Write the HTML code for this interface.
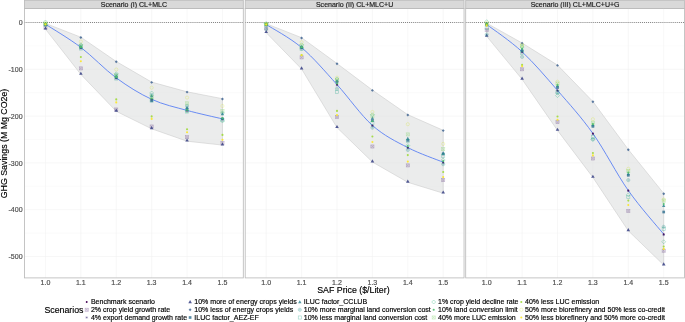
<!DOCTYPE html>
<html><head><meta charset="utf-8"><title>chart</title><style>html,body{margin:0;padding:0;background:#fff;overflow:hidden}svg{display:block;will-change:transform}</style></head><body>
<svg width="685" height="322" viewBox="0 0 685 322" font-family="Liberation Sans, sans-serif">
<rect width="685" height="322" fill="#fff"/>
<g>
<rect x="24.45" y="0.35" width="218.85" height="8.15" fill="#d9d9d9" stroke="#bbbbbb" stroke-width="0.85"/>
<text x="133.88" y="7.1" font-size="7.04" fill="#1a1a1a" stroke="#1a1a1a" stroke-width="0.16" text-anchor="middle">Scenario (I) CL+MLC</text>
<path d="M24.45 22.5H243.3M24.45 69.3H243.3M24.45 116.1H243.3M24.45 162.9H243.3M24.45 209.7H243.3M24.45 256.5H243.3M45.45 8.5V277.9M80.85 8.5V277.9M116.25 8.5V277.9M151.65 8.5V277.9M187.05 8.5V277.9M222.45 8.5V277.9" stroke="#f0f0f0" stroke-width="0.55" fill="none"/>
<path d="M24.45 45.9H243.3M24.45 92.7H243.3M24.45 139.5H243.3M24.45 186.3H243.3M24.45 233.1H243.3" stroke="#f6f6f6" stroke-width="0.4" fill="none"/>
<path d="M24.45 22.5H243.3" stroke="#5a5a5a" stroke-width="0.85" stroke-dasharray="0.85 1.2" fill="none"/>
<polygon points="45.45,23.4 80.85,37.2 116.25,61.5 151.65,82.1 187.05,91.8 222.45,98.7 222.45,145.1 187.05,141.2 151.65,128.8 116.25,111.3 80.85,74.4 45.45,29.1" fill="#dfe1e1" fill-opacity="0.62" stroke="#c4c4c4" stroke-width="0.5"/>
<path d="M45.45 24.2C51.35 28.07 69.05 38.45 80.85 47.4C92.65 56.35 104.45 69.25 116.25 77.9C128.05 86.55 139.85 93.88 151.65 99.3C163.45 104.72 175.25 107.13 187.05 110.4C198.85 113.67 216.55 117.48 222.45 118.9" stroke="#5a80f4" stroke-width="0.9" fill="none"/>
<circle cx="45.45" cy="24.2" r="0.95" fill="#440154" opacity="1"/>
<circle cx="80.85" cy="47.4" r="0.95" fill="#440154" opacity="1"/>
<circle cx="116.25" cy="77.9" r="0.95" fill="#440154" opacity="1"/>
<circle cx="151.65" cy="99.3" r="0.95" fill="#440154" opacity="1"/>
<circle cx="187.05" cy="110.4" r="0.95" fill="#440154" opacity="1"/>
<circle cx="222.45" cy="118.9" r="0.95" fill="#440154" opacity="1"/>
<g stroke="#481B6D" stroke-width="0.6" fill="#481B6D" fill-opacity="0.3" opacity="0.35"><rect x="43.9" y="25.95" width="3.1" height="3.1"/><path d="M43.9 25.95L47 29.05M43.9 29.05L47 25.95"/></g>
<g stroke="#481B6D" stroke-width="0.6" fill="#481B6D" fill-opacity="0.3" opacity="0.35"><rect x="79.3" y="66.85" width="3.1" height="3.1"/><path d="M79.3 66.85L82.4 69.95M79.3 69.95L82.4 66.85"/></g>
<g stroke="#481B6D" stroke-width="0.6" fill="#481B6D" fill-opacity="0.3" opacity="0.35"><rect x="114.7" y="107.95" width="3.1" height="3.1"/><path d="M114.7 107.95L117.8 111.05M114.7 111.05L117.8 107.95"/></g>
<g stroke="#481B6D" stroke-width="0.6" fill="#481B6D" fill-opacity="0.3" opacity="0.35"><rect x="150.1" y="124.95" width="3.1" height="3.1"/><path d="M150.1 124.95L153.2 128.05M150.1 128.05L153.2 124.95"/></g>
<g stroke="#481B6D" stroke-width="0.6" fill="#481B6D" fill-opacity="0.3" opacity="0.35"><rect x="185.5" y="135.65" width="3.1" height="3.1"/><path d="M185.5 135.65L188.6 138.75M185.5 138.75L188.6 135.65"/></g>
<g stroke="#481B6D" stroke-width="0.6" fill="#481B6D" fill-opacity="0.3" opacity="0.35"><rect x="220.9" y="141.45" width="3.1" height="3.1"/><path d="M220.9 141.45L224 144.55M220.9 144.55L224 141.45"/></g>
<path stroke="#46337E" stroke-width="0.7" fill="none" opacity="0.4" d="M44.2 24.8H46.7M45.45 23.55V26.05M44.55 23.9L46.35 25.7M44.55 25.7L46.35 23.9"/>
<path stroke="#46337E" stroke-width="0.7" fill="none" opacity="0.4" d="M79.6 48.2H82.1M80.85 46.95V49.45M79.95 47.3L81.75 49.1M79.95 49.1L81.75 47.3"/>
<path stroke="#46337E" stroke-width="0.7" fill="none" opacity="0.4" d="M115 78.6H117.5M116.25 77.35V79.85M115.35 77.7L117.15 79.5M115.35 79.5L117.15 77.7"/>
<path stroke="#46337E" stroke-width="0.7" fill="none" opacity="0.4" d="M150.4 100H152.9M151.65 98.75V101.25M150.75 99.1L152.55 100.9M150.75 100.9L152.55 99.1"/>
<path stroke="#46337E" stroke-width="0.7" fill="none" opacity="0.4" d="M185.8 111H188.3M187.05 109.75V112.25M186.15 110.1L187.95 111.9M186.15 111.9L187.95 110.1"/>
<path stroke="#46337E" stroke-width="0.7" fill="none" opacity="0.4" d="M221.2 119.5H223.7M222.45 118.25V120.75M221.55 118.6L223.35 120.4M221.55 120.4L223.35 118.6"/>
<path fill="#3F4889" opacity="0.9" d="M45.45 26.4L47.25 29.5L43.65 29.5Z"/>
<path fill="#3F4889" opacity="0.9" d="M80.85 71.7L82.65 74.8L79.05 74.8Z"/>
<path fill="#3F4889" opacity="0.9" d="M116.25 108.6L118.05 111.7L114.45 111.7Z"/>
<path fill="#3F4889" opacity="0.9" d="M151.65 126.1L153.45 129.2L149.85 129.2Z"/>
<path fill="#3F4889" opacity="0.9" d="M187.05 138.5L188.85 141.6L185.25 141.6Z"/>
<path fill="#3F4889" opacity="0.9" d="M222.45 142.4L224.25 145.5L220.65 145.5Z"/>
<path fill="#365C8D" opacity="0.8" d="M45.45 22.25L46.9 23.7L45.45 25.15L44 23.7Z"/>
<path fill="#365C8D" opacity="0.8" d="M80.85 36.05L82.3 37.5L80.85 38.95L79.4 37.5Z"/>
<path fill="#365C8D" opacity="0.8" d="M116.25 60.35L117.7 61.8L116.25 63.25L114.8 61.8Z"/>
<path fill="#365C8D" opacity="0.8" d="M151.65 80.95L153.1 82.4L151.65 83.85L150.2 82.4Z"/>
<path fill="#365C8D" opacity="0.8" d="M187.05 90.65L188.5 92.1L187.05 93.55L185.6 92.1Z"/>
<path fill="#365C8D" opacity="0.8" d="M222.45 97.55L223.9 99L222.45 100.45L221 99Z"/>
<rect x="44.1" y="23.15" width="2.7" height="2.7" fill="#2E6E8E" opacity="0.8"/>
<rect x="79.5" y="46.45" width="2.7" height="2.7" fill="#2E6E8E" opacity="0.8"/>
<rect x="114.9" y="76.15" width="2.7" height="2.7" fill="#2E6E8E" opacity="0.8"/>
<rect x="150.3" y="99.45" width="2.7" height="2.7" fill="#2E6E8E" opacity="0.8"/>
<rect x="185.7" y="107.85" width="2.7" height="2.7" fill="#2E6E8E" opacity="0.8"/>
<rect x="221.1" y="117.55" width="2.7" height="2.7" fill="#2E6E8E" opacity="0.8"/>
<path fill="#277F8E" opacity="0.8" d="M45.45 22.2L47.16 25.14L43.74 25.14Z"/>
<path fill="#277F8E" opacity="0.8" d="M80.85 44.7L82.56 47.64L79.14 47.64Z"/>
<path fill="#277F8E" opacity="0.8" d="M116.25 74.19L117.96 77.14L114.54 77.14Z"/>
<path fill="#277F8E" opacity="0.8" d="M151.65 94.29L153.36 97.24L149.94 97.24Z"/>
<path fill="#277F8E" opacity="0.8" d="M187.05 105.69L188.76 108.64L185.34 108.64Z"/>
<path fill="#277F8E" opacity="0.8" d="M222.45 112.19L224.16 115.14L220.74 115.14Z"/>
<g stroke="#21908C" stroke-width="0.6" fill="none" opacity="0.45"><circle cx="45.45" cy="24.5" r="1.6"/><path d="M43.85 24.5H47.05M45.45 22.9V26.1"/></g>
<g stroke="#21908C" stroke-width="0.6" fill="none" opacity="0.45"><circle cx="80.85" cy="45.5" r="1.6"/><path d="M79.25 45.5H82.45M80.85 43.9V47.1"/></g>
<g stroke="#21908C" stroke-width="0.6" fill="none" opacity="0.45"><circle cx="116.25" cy="75" r="1.6"/><path d="M114.65 75H117.85M116.25 73.4V76.6"/></g>
<g stroke="#21908C" stroke-width="0.6" fill="none" opacity="0.45"><circle cx="151.65" cy="95" r="1.6"/><path d="M150.05 95H153.25M151.65 93.4V96.6"/></g>
<g stroke="#21908C" stroke-width="0.6" fill="none" opacity="0.45"><circle cx="187.05" cy="106" r="1.6"/><path d="M185.45 106H188.65M187.05 104.4V107.6"/></g>
<g stroke="#21908C" stroke-width="0.6" fill="none" opacity="0.45"><circle cx="222.45" cy="113" r="1.6"/><path d="M220.85 113H224.05M222.45 111.4V114.6"/></g>
<rect x="43.9" y="23.45" width="3.1" height="3.1" fill="none" stroke="#1FA187" stroke-width="0.6" opacity="0.45"/>
<rect x="79.3" y="46.95" width="3.1" height="3.1" fill="none" stroke="#1FA187" stroke-width="0.6" opacity="0.45"/>
<rect x="114.7" y="76.95" width="3.1" height="3.1" fill="none" stroke="#1FA187" stroke-width="0.6" opacity="0.45"/>
<rect x="150.1" y="98.95" width="3.1" height="3.1" fill="none" stroke="#1FA187" stroke-width="0.6" opacity="0.45"/>
<rect x="185.5" y="109.95" width="3.1" height="3.1" fill="none" stroke="#1FA187" stroke-width="0.6" opacity="0.45"/>
<rect x="220.9" y="118.45" width="3.1" height="3.1" fill="none" stroke="#1FA187" stroke-width="0.6" opacity="0.45"/>
<path fill="none" stroke="#2DB27D" stroke-width="0.6" opacity="0.55" d="M45.45 20L47.45 22L45.45 24L43.45 22Z"/>
<path fill="none" stroke="#2DB27D" stroke-width="0.6" opacity="0.55" d="M80.85 42.8L82.85 44.8L80.85 46.8L78.85 44.8Z"/>
<path fill="none" stroke="#2DB27D" stroke-width="0.6" opacity="0.55" d="M116.25 71.8L118.25 73.8L116.25 75.8L114.25 73.8Z"/>
<path fill="none" stroke="#2DB27D" stroke-width="0.6" opacity="0.55" d="M151.65 91L153.65 93L151.65 95L149.65 93Z"/>
<path fill="none" stroke="#2DB27D" stroke-width="0.6" opacity="0.55" d="M187.05 109L189.05 111L187.05 113L185.05 111Z"/>
<path fill="none" stroke="#2DB27D" stroke-width="0.6" opacity="0.55" d="M222.45 119L224.45 121L222.45 123L220.45 121Z"/>
<circle cx="45.45" cy="24.2" r="1.05" fill="#4AC16D" opacity="0.9"/>
<circle cx="80.85" cy="47" r="1.05" fill="#4AC16D" opacity="0.9"/>
<circle cx="116.25" cy="77" r="1.05" fill="#4AC16D" opacity="0.9"/>
<circle cx="151.65" cy="98.5" r="1.05" fill="#4AC16D" opacity="0.9"/>
<circle cx="187.05" cy="110" r="1.05" fill="#4AC16D" opacity="0.9"/>
<circle cx="222.45" cy="118" r="1.05" fill="#4AC16D" opacity="0.9"/>
<g stroke="#71CF57" stroke-width="0.6" fill="#71CF57" fill-opacity="0.15" opacity="0.4"><rect x="43.9" y="22.45" width="3.1" height="3.1"/><path d="M43.9 22.45L47 25.55M43.9 25.55L47 22.45"/></g>
<g stroke="#71CF57" stroke-width="0.6" fill="#71CF57" fill-opacity="0.15" opacity="0.4"><rect x="79.3" y="44.45" width="3.1" height="3.1"/><path d="M79.3 44.45L82.4 47.55M79.3 47.55L82.4 44.45"/></g>
<g stroke="#71CF57" stroke-width="0.6" fill="#71CF57" fill-opacity="0.15" opacity="0.4"><rect x="114.7" y="73.95" width="3.1" height="3.1"/><path d="M114.7 73.95L117.8 77.05M114.7 77.05L117.8 73.95"/></g>
<g stroke="#71CF57" stroke-width="0.6" fill="#71CF57" fill-opacity="0.15" opacity="0.4"><rect x="150.1" y="95.45" width="3.1" height="3.1"/><path d="M150.1 95.45L153.2 98.55M150.1 98.55L153.2 95.45"/></g>
<g stroke="#71CF57" stroke-width="0.6" fill="#71CF57" fill-opacity="0.15" opacity="0.4"><rect x="185.5" y="101.75" width="3.1" height="3.1"/><path d="M185.5 101.75L188.6 104.85M185.5 104.85L188.6 101.75"/></g>
<g stroke="#71CF57" stroke-width="0.6" fill="#71CF57" fill-opacity="0.15" opacity="0.4"><rect x="220.9" y="109.45" width="3.1" height="3.1"/><path d="M220.9 109.45L224 112.55M220.9 112.55L224 109.45"/></g>
<circle cx="45.45" cy="23.9" r="1.05" fill="#9FDA3A" opacity="0.9"/>
<circle cx="80.85" cy="57" r="1.05" fill="#9FDA3A" opacity="0.9"/>
<circle cx="116.25" cy="99.4" r="1.05" fill="#9FDA3A" opacity="0.9"/>
<circle cx="151.65" cy="116.4" r="1.05" fill="#9FDA3A" opacity="0.9"/>
<circle cx="187.05" cy="129.2" r="1.05" fill="#9FDA3A" opacity="0.9"/>
<circle cx="222.45" cy="134.9" r="1.05" fill="#9FDA3A" opacity="0.9"/>
<circle cx="45.45" cy="23" r="1.6" fill="none" stroke="#CFE11C" stroke-width="0.6" opacity="0.4"/>
<circle cx="80.85" cy="41.5" r="1.6" fill="none" stroke="#CFE11C" stroke-width="0.6" opacity="0.4"/>
<circle cx="116.25" cy="69.5" r="1.6" fill="none" stroke="#CFE11C" stroke-width="0.6" opacity="0.4"/>
<circle cx="151.65" cy="87.7" r="1.6" fill="none" stroke="#CFE11C" stroke-width="0.6" opacity="0.4"/>
<circle cx="187.05" cy="97.6" r="1.6" fill="none" stroke="#CFE11C" stroke-width="0.6" opacity="0.4"/>
<circle cx="222.45" cy="106" r="1.6" fill="none" stroke="#CFE11C" stroke-width="0.6" opacity="0.4"/>
<circle cx="45.45" cy="24.5" r="1.05" fill="#FDE725" opacity="0.9"/>
<circle cx="80.85" cy="61.3" r="1.05" fill="#FDE725" opacity="0.9"/>
<circle cx="116.25" cy="102.4" r="1.05" fill="#FDE725" opacity="0.9"/>
<circle cx="151.65" cy="118.9" r="1.05" fill="#FDE725" opacity="0.9"/>
<circle cx="187.05" cy="132.3" r="1.05" fill="#FDE725" opacity="0.9"/>
<circle cx="222.45" cy="139.8" r="1.05" fill="#FDE725" opacity="0.9"/>
<rect x="24.45" y="8.5" width="218.85" height="269.4" fill="none" stroke="#bbbbbb" stroke-width="0.85"/>
<text x="45.45" y="284.55" font-size="7.04" fill="#4d4d4d" stroke="#4d4d4d" stroke-width="0.16" text-anchor="middle">1.0</text>
<text x="80.85" y="284.55" font-size="7.04" fill="#4d4d4d" stroke="#4d4d4d" stroke-width="0.16" text-anchor="middle">1.1</text>
<text x="116.25" y="284.55" font-size="7.04" fill="#4d4d4d" stroke="#4d4d4d" stroke-width="0.16" text-anchor="middle">1.2</text>
<text x="151.65" y="284.55" font-size="7.04" fill="#4d4d4d" stroke="#4d4d4d" stroke-width="0.16" text-anchor="middle">1.3</text>
<text x="187.05" y="284.55" font-size="7.04" fill="#4d4d4d" stroke="#4d4d4d" stroke-width="0.16" text-anchor="middle">1.4</text>
<text x="222.45" y="284.55" font-size="7.04" fill="#4d4d4d" stroke="#4d4d4d" stroke-width="0.16" text-anchor="middle">1.5</text>
</g>
<g>
<rect x="245.2" y="0.35" width="218.85" height="8.15" fill="#d9d9d9" stroke="#bbbbbb" stroke-width="0.85"/>
<text x="354.62" y="7.1" font-size="7.04" fill="#1a1a1a" stroke="#1a1a1a" stroke-width="0.16" text-anchor="middle">Scenario (II) CL+MLC+U</text>
<path d="M245.2 22.5H464.05M245.2 69.3H464.05M245.2 116.1H464.05M245.2 162.9H464.05M245.2 209.7H464.05M245.2 256.5H464.05M266.2 8.5V277.9M301.6 8.5V277.9M337 8.5V277.9M372.4 8.5V277.9M407.8 8.5V277.9M443.2 8.5V277.9" stroke="#f0f0f0" stroke-width="0.55" fill="none"/>
<path d="M245.2 45.9H464.05M245.2 92.7H464.05M245.2 139.5H464.05M245.2 186.3H464.05M245.2 233.1H464.05" stroke="#f6f6f6" stroke-width="0.4" fill="none"/>
<path d="M245.2 22.5H464.05" stroke="#5a5a5a" stroke-width="0.85" stroke-dasharray="0.85 1.2" fill="none"/>
<polygon points="266.2,23.7 301.6,37.7 337,63.5 372.4,90.1 407.8,114.7 443.2,130.3 443.2,193.2 407.8,182.3 372.4,162 337,127.6 301.6,69 266.2,32.7" fill="#dfe1e1" fill-opacity="0.62" stroke="#c4c4c4" stroke-width="0.5"/>
<path d="M266.2 24.5C272.1 28.35 289.8 37.58 301.6 47.6C313.4 57.62 325.2 71.63 337 84.6C348.8 97.57 360.6 114.9 372.4 125.4C384.2 135.9 396 141.47 407.8 147.6C419.6 153.73 437.3 159.77 443.2 162.2" stroke="#5a80f4" stroke-width="0.9" fill="none"/>
<circle cx="266.2" cy="24.5" r="0.95" fill="#440154" opacity="1"/>
<circle cx="301.6" cy="47.6" r="0.95" fill="#440154" opacity="1"/>
<circle cx="337" cy="84.6" r="0.95" fill="#440154" opacity="1"/>
<circle cx="372.4" cy="125.4" r="0.95" fill="#440154" opacity="1"/>
<circle cx="407.8" cy="147.6" r="0.95" fill="#440154" opacity="1"/>
<circle cx="443.2" cy="162.2" r="0.95" fill="#440154" opacity="1"/>
<g stroke="#481B6D" stroke-width="0.6" fill="#481B6D" fill-opacity="0.3" opacity="0.35"><rect x="264.65" y="26.95" width="3.1" height="3.1"/><path d="M264.65 26.95L267.75 30.05M264.65 30.05L267.75 26.95"/></g>
<g stroke="#481B6D" stroke-width="0.6" fill="#481B6D" fill-opacity="0.3" opacity="0.35"><rect x="300.05" y="55.85" width="3.1" height="3.1"/><path d="M300.05 55.85L303.15 58.95M300.05 58.95L303.15 55.85"/></g>
<g stroke="#481B6D" stroke-width="0.6" fill="#481B6D" fill-opacity="0.3" opacity="0.35"><rect x="335.45" y="115.55" width="3.1" height="3.1"/><path d="M335.45 115.55L338.55 118.65M335.45 118.65L338.55 115.55"/></g>
<g stroke="#481B6D" stroke-width="0.6" fill="#481B6D" fill-opacity="0.3" opacity="0.35"><rect x="370.85" y="144.95" width="3.1" height="3.1"/><path d="M370.85 144.95L373.95 148.05M370.85 148.05L373.95 144.95"/></g>
<g stroke="#481B6D" stroke-width="0.6" fill="#481B6D" fill-opacity="0.3" opacity="0.35"><rect x="406.25" y="163.85" width="3.1" height="3.1"/><path d="M406.25 163.85L409.35 166.95M406.25 166.95L409.35 163.85"/></g>
<g stroke="#481B6D" stroke-width="0.6" fill="#481B6D" fill-opacity="0.3" opacity="0.35"><rect x="441.65" y="178.55" width="3.1" height="3.1"/><path d="M441.65 178.55L444.75 181.65M441.65 181.65L444.75 178.55"/></g>
<path stroke="#46337E" stroke-width="0.7" fill="none" opacity="0.4" d="M264.95 25H267.45M266.2 23.75V26.25M265.3 24.1L267.1 25.9M265.3 25.9L267.1 24.1"/>
<path stroke="#46337E" stroke-width="0.7" fill="none" opacity="0.4" d="M300.35 48.3H302.85M301.6 47.05V49.55M300.7 47.4L302.5 49.2M300.7 49.2L302.5 47.4"/>
<path stroke="#46337E" stroke-width="0.7" fill="none" opacity="0.4" d="M335.75 85.3H338.25M337 84.05V86.55M336.1 84.4L337.9 86.2M336.1 86.2L337.9 84.4"/>
<path stroke="#46337E" stroke-width="0.7" fill="none" opacity="0.4" d="M371.15 126H373.65M372.4 124.75V127.25M371.5 125.1L373.3 126.9M371.5 126.9L373.3 125.1"/>
<path stroke="#46337E" stroke-width="0.7" fill="none" opacity="0.4" d="M406.55 148.3H409.05M407.8 147.05V149.55M406.9 147.4L408.7 149.2M406.9 149.2L408.7 147.4"/>
<path stroke="#46337E" stroke-width="0.7" fill="none" opacity="0.4" d="M441.95 163H444.45M443.2 161.75V164.25M442.3 162.1L444.1 163.9M442.3 163.9L444.1 162.1"/>
<path fill="#3F4889" opacity="0.9" d="M266.2 30L268 33.1L264.4 33.1Z"/>
<path fill="#3F4889" opacity="0.9" d="M301.6 66.3L303.4 69.4L299.8 69.4Z"/>
<path fill="#3F4889" opacity="0.9" d="M337 124.9L338.8 128L335.2 128Z"/>
<path fill="#3F4889" opacity="0.9" d="M372.4 159.3L374.2 162.4L370.6 162.4Z"/>
<path fill="#3F4889" opacity="0.9" d="M407.8 179.6L409.6 182.7L406 182.7Z"/>
<path fill="#3F4889" opacity="0.9" d="M443.2 190.5L445 193.6L441.4 193.6Z"/>
<path fill="#365C8D" opacity="0.8" d="M266.2 22.55L267.65 24L266.2 25.45L264.75 24Z"/>
<path fill="#365C8D" opacity="0.8" d="M301.6 36.55L303.05 38L301.6 39.45L300.15 38Z"/>
<path fill="#365C8D" opacity="0.8" d="M337 62.35L338.45 63.8L337 65.25L335.55 63.8Z"/>
<path fill="#365C8D" opacity="0.8" d="M372.4 88.95L373.85 90.4L372.4 91.85L370.95 90.4Z"/>
<path fill="#365C8D" opacity="0.8" d="M407.8 113.55L409.25 115L407.8 116.45L406.35 115Z"/>
<path fill="#365C8D" opacity="0.8" d="M443.2 129.15L444.65 130.6L443.2 132.05L441.75 130.6Z"/>
<rect x="264.85" y="23.15" width="2.7" height="2.7" fill="#2E6E8E" opacity="0.8"/>
<rect x="300.25" y="46.15" width="2.7" height="2.7" fill="#2E6E8E" opacity="0.8"/>
<rect x="335.65" y="80.65" width="2.7" height="2.7" fill="#2E6E8E" opacity="0.8"/>
<rect x="371.05" y="119.25" width="2.7" height="2.7" fill="#2E6E8E" opacity="0.8"/>
<rect x="406.45" y="139.05" width="2.7" height="2.7" fill="#2E6E8E" opacity="0.8"/>
<rect x="441.85" y="152.65" width="2.7" height="2.7" fill="#2E6E8E" opacity="0.8"/>
<path fill="#277F8E" opacity="0.8" d="M266.2 22.5L267.91 25.44L264.49 25.44Z"/>
<path fill="#277F8E" opacity="0.8" d="M301.6 44.7L303.31 47.64L299.89 47.64Z"/>
<path fill="#277F8E" opacity="0.8" d="M337 78.79L338.71 81.74L335.29 81.74Z"/>
<path fill="#277F8E" opacity="0.8" d="M372.4 116.49L374.11 119.44L370.69 119.44Z"/>
<path fill="#277F8E" opacity="0.8" d="M407.8 136.69L409.51 139.64L406.09 139.64Z"/>
<path fill="#277F8E" opacity="0.8" d="M443.2 151.19L444.91 154.14L441.49 154.14Z"/>
<g stroke="#21908C" stroke-width="0.6" fill="none" opacity="0.45"><circle cx="266.2" cy="29" r="1.6"/><path d="M264.6 29H267.8M266.2 27.4V30.6"/></g>
<g stroke="#21908C" stroke-width="0.6" fill="none" opacity="0.45"><circle cx="301.6" cy="48.5" r="1.6"/><path d="M300 48.5H303.2M301.6 46.9V50.1"/></g>
<g stroke="#21908C" stroke-width="0.6" fill="none" opacity="0.45"><circle cx="337" cy="88.7" r="1.6"/><path d="M335.4 88.7H338.6M337 87.1V90.3"/></g>
<g stroke="#21908C" stroke-width="0.6" fill="none" opacity="0.45"><circle cx="372.4" cy="127.7" r="1.6"/><path d="M370.8 127.7H374M372.4 126.1V129.3"/></g>
<g stroke="#21908C" stroke-width="0.6" fill="none" opacity="0.45"><circle cx="407.8" cy="150" r="1.6"/><path d="M406.2 150H409.4M407.8 148.4V151.6"/></g>
<g stroke="#21908C" stroke-width="0.6" fill="none" opacity="0.45"><circle cx="443.2" cy="164.2" r="1.6"/><path d="M441.6 164.2H444.8M443.2 162.6V165.8"/></g>
<rect x="264.65" y="23.45" width="3.1" height="3.1" fill="none" stroke="#1FA187" stroke-width="0.6" opacity="0.45"/>
<rect x="300.05" y="47.45" width="3.1" height="3.1" fill="none" stroke="#1FA187" stroke-width="0.6" opacity="0.45"/>
<rect x="335.45" y="90.35" width="3.1" height="3.1" fill="none" stroke="#1FA187" stroke-width="0.6" opacity="0.45"/>
<rect x="370.85" y="121.45" width="3.1" height="3.1" fill="none" stroke="#1FA187" stroke-width="0.6" opacity="0.45"/>
<rect x="406.25" y="139.45" width="3.1" height="3.1" fill="none" stroke="#1FA187" stroke-width="0.6" opacity="0.45"/>
<rect x="441.65" y="154.45" width="3.1" height="3.1" fill="none" stroke="#1FA187" stroke-width="0.6" opacity="0.45"/>
<path fill="none" stroke="#2DB27D" stroke-width="0.6" opacity="0.55" d="M266.2 21.5L268.2 23.5L266.2 25.5L264.2 23.5Z"/>
<path fill="none" stroke="#2DB27D" stroke-width="0.6" opacity="0.55" d="M301.6 42.8L303.6 44.8L301.6 46.8L299.6 44.8Z"/>
<path fill="none" stroke="#2DB27D" stroke-width="0.6" opacity="0.55" d="M337 77L339 79L337 81L335 79Z"/>
<path fill="none" stroke="#2DB27D" stroke-width="0.6" opacity="0.55" d="M372.4 112.8L374.4 114.8L372.4 116.8L370.4 114.8Z"/>
<path fill="none" stroke="#2DB27D" stroke-width="0.6" opacity="0.55" d="M407.8 143.6L409.8 145.6L407.8 147.6L405.8 145.6Z"/>
<path fill="none" stroke="#2DB27D" stroke-width="0.6" opacity="0.55" d="M443.2 158L445.2 160L443.2 162L441.2 160Z"/>
<circle cx="266.2" cy="24.4" r="1.05" fill="#4AC16D" opacity="0.9"/>
<circle cx="301.6" cy="47.2" r="1.05" fill="#4AC16D" opacity="0.9"/>
<circle cx="337" cy="83.5" r="1.05" fill="#4AC16D" opacity="0.9"/>
<circle cx="372.4" cy="121.3" r="1.05" fill="#4AC16D" opacity="0.9"/>
<circle cx="407.8" cy="146" r="1.05" fill="#4AC16D" opacity="0.9"/>
<circle cx="443.2" cy="161" r="1.05" fill="#4AC16D" opacity="0.9"/>
<g stroke="#71CF57" stroke-width="0.6" fill="#71CF57" fill-opacity="0.15" opacity="0.4"><rect x="264.65" y="22.65" width="3.1" height="3.1"/><path d="M264.65 22.65L267.75 25.75M264.65 25.75L267.75 22.65"/></g>
<g stroke="#71CF57" stroke-width="0.6" fill="#71CF57" fill-opacity="0.15" opacity="0.4"><rect x="300.05" y="44.45" width="3.1" height="3.1"/><path d="M300.05 44.45L303.15 47.55M300.05 47.55L303.15 44.45"/></g>
<g stroke="#71CF57" stroke-width="0.6" fill="#71CF57" fill-opacity="0.15" opacity="0.4"><rect x="335.45" y="78.45" width="3.1" height="3.1"/><path d="M335.45 78.45L338.55 81.55M335.45 81.55L338.55 78.45"/></g>
<g stroke="#71CF57" stroke-width="0.6" fill="#71CF57" fill-opacity="0.15" opacity="0.4"><rect x="370.85" y="114.45" width="3.1" height="3.1"/><path d="M370.85 114.45L373.95 117.55M370.85 117.55L373.95 114.45"/></g>
<g stroke="#71CF57" stroke-width="0.6" fill="#71CF57" fill-opacity="0.15" opacity="0.4"><rect x="406.25" y="132.85" width="3.1" height="3.1"/><path d="M406.25 132.85L409.35 135.95M406.25 135.95L409.35 132.85"/></g>
<g stroke="#71CF57" stroke-width="0.6" fill="#71CF57" fill-opacity="0.15" opacity="0.4"><rect x="441.65" y="147.65" width="3.1" height="3.1"/><path d="M441.65 147.65L444.75 150.75M441.65 150.75L444.75 147.65"/></g>
<circle cx="266.2" cy="24.3" r="1.05" fill="#9FDA3A" opacity="0.9"/>
<circle cx="301.6" cy="55" r="1.05" fill="#9FDA3A" opacity="0.9"/>
<circle cx="337" cy="110.9" r="1.05" fill="#9FDA3A" opacity="0.9"/>
<circle cx="372.4" cy="136.5" r="1.05" fill="#9FDA3A" opacity="0.9"/>
<circle cx="407.8" cy="155.1" r="1.05" fill="#9FDA3A" opacity="0.9"/>
<circle cx="443.2" cy="172" r="1.05" fill="#9FDA3A" opacity="0.9"/>
<circle cx="266.2" cy="24" r="1.6" fill="none" stroke="#CFE11C" stroke-width="0.6" opacity="0.4"/>
<circle cx="301.6" cy="42.2" r="1.6" fill="none" stroke="#CFE11C" stroke-width="0.6" opacity="0.4"/>
<circle cx="337" cy="77.7" r="1.6" fill="none" stroke="#CFE11C" stroke-width="0.6" opacity="0.4"/>
<circle cx="372.4" cy="112" r="1.6" fill="none" stroke="#CFE11C" stroke-width="0.6" opacity="0.4"/>
<circle cx="407.8" cy="124.2" r="1.6" fill="none" stroke="#CFE11C" stroke-width="0.6" opacity="0.4"/>
<circle cx="443.2" cy="143.9" r="1.6" fill="none" stroke="#CFE11C" stroke-width="0.6" opacity="0.4"/>
<circle cx="266.2" cy="24.5" r="1.05" fill="#FDE725" opacity="0.9"/>
<circle cx="301.6" cy="55.3" r="1.05" fill="#FDE725" opacity="0.9"/>
<circle cx="337" cy="115.1" r="1.05" fill="#FDE725" opacity="0.9"/>
<circle cx="372.4" cy="142" r="1.05" fill="#FDE725" opacity="0.9"/>
<circle cx="407.8" cy="161.6" r="1.05" fill="#FDE725" opacity="0.9"/>
<circle cx="443.2" cy="177.1" r="1.05" fill="#FDE725" opacity="0.9"/>
<rect x="245.2" y="8.5" width="218.85" height="269.4" fill="none" stroke="#bbbbbb" stroke-width="0.85"/>
<text x="266.2" y="284.55" font-size="7.04" fill="#4d4d4d" stroke="#4d4d4d" stroke-width="0.16" text-anchor="middle">1.0</text>
<text x="301.6" y="284.55" font-size="7.04" fill="#4d4d4d" stroke="#4d4d4d" stroke-width="0.16" text-anchor="middle">1.1</text>
<text x="337" y="284.55" font-size="7.04" fill="#4d4d4d" stroke="#4d4d4d" stroke-width="0.16" text-anchor="middle">1.2</text>
<text x="372.4" y="284.55" font-size="7.04" fill="#4d4d4d" stroke="#4d4d4d" stroke-width="0.16" text-anchor="middle">1.3</text>
<text x="407.8" y="284.55" font-size="7.04" fill="#4d4d4d" stroke="#4d4d4d" stroke-width="0.16" text-anchor="middle">1.4</text>
<text x="443.2" y="284.55" font-size="7.04" fill="#4d4d4d" stroke="#4d4d4d" stroke-width="0.16" text-anchor="middle">1.5</text>
</g>
<g>
<rect x="465.7" y="0.35" width="218.85" height="8.15" fill="#d9d9d9" stroke="#bbbbbb" stroke-width="0.85"/>
<text x="575.12" y="7.1" font-size="7.04" fill="#1a1a1a" stroke="#1a1a1a" stroke-width="0.16" text-anchor="middle">Scenario (III) CL+MLC+U+G</text>
<path d="M465.7 22.5H684.55M465.7 69.3H684.55M465.7 116.1H684.55M465.7 162.9H684.55M465.7 209.7H684.55M465.7 256.5H684.55M486.7 8.5V277.9M522.1 8.5V277.9M557.5 8.5V277.9M592.9 8.5V277.9M628.3 8.5V277.9M663.7 8.5V277.9" stroke="#f0f0f0" stroke-width="0.55" fill="none"/>
<path d="M465.7 45.9H684.55M465.7 92.7H684.55M465.7 139.5H684.55M465.7 186.3H684.55M465.7 233.1H684.55" stroke="#f6f6f6" stroke-width="0.4" fill="none"/>
<path d="M465.7 22.5H684.55" stroke="#5a5a5a" stroke-width="0.85" stroke-dasharray="0.85 1.2" fill="none"/>
<polygon points="486.7,23.2 522.1,43 557.5,65.1 592.9,101.5 628.3,149.5 663.7,193.4 663.7,265 628.3,230.8 592.9,177.4 557.5,130.4 522.1,79.3 486.7,36.3" fill="#dfe1e1" fill-opacity="0.62" stroke="#c4c4c4" stroke-width="0.5"/>
<path d="M486.7 24.5C492.6 29.05 510.3 40.82 522.1 51.8C533.9 62.78 545.7 76.78 557.5 90.4C569.3 104.02 581.1 116.82 592.9 133.5C604.7 150.18 616.5 173.72 628.3 190.5C640.1 207.28 657.8 226.92 663.7 234.2" stroke="#5a80f4" stroke-width="0.9" fill="none"/>
<circle cx="486.7" cy="24.5" r="0.95" fill="#440154" opacity="1"/>
<circle cx="522.1" cy="51.8" r="0.95" fill="#440154" opacity="1"/>
<circle cx="557.5" cy="90.4" r="0.95" fill="#440154" opacity="1"/>
<circle cx="592.9" cy="133.5" r="0.95" fill="#440154" opacity="1"/>
<circle cx="628.3" cy="190.5" r="0.95" fill="#440154" opacity="1"/>
<circle cx="663.7" cy="234.2" r="0.95" fill="#440154" opacity="1"/>
<g stroke="#481B6D" stroke-width="0.6" fill="#481B6D" fill-opacity="0.3" opacity="0.35"><rect x="485.15" y="28.45" width="3.1" height="3.1"/><path d="M485.15 28.45L488.25 31.55M485.15 31.55L488.25 28.45"/></g>
<g stroke="#481B6D" stroke-width="0.6" fill="#481B6D" fill-opacity="0.3" opacity="0.35"><rect x="520.55" y="67.75" width="3.1" height="3.1"/><path d="M520.55 67.75L523.65 70.85M520.55 70.85L523.65 67.75"/></g>
<g stroke="#481B6D" stroke-width="0.6" fill="#481B6D" fill-opacity="0.3" opacity="0.35"><rect x="555.95" y="120.55" width="3.1" height="3.1"/><path d="M555.95 120.55L559.05 123.65M555.95 123.65L559.05 120.55"/></g>
<g stroke="#481B6D" stroke-width="0.6" fill="#481B6D" fill-opacity="0.3" opacity="0.35"><rect x="591.35" y="156.95" width="3.1" height="3.1"/><path d="M591.35 156.95L594.45 160.05M591.35 160.05L594.45 156.95"/></g>
<g stroke="#481B6D" stroke-width="0.6" fill="#481B6D" fill-opacity="0.3" opacity="0.35"><rect x="626.75" y="209.45" width="3.1" height="3.1"/><path d="M626.75 209.45L629.85 212.55M626.75 212.55L629.85 209.45"/></g>
<g stroke="#481B6D" stroke-width="0.6" fill="#481B6D" fill-opacity="0.3" opacity="0.35"><rect x="662.15" y="249.15" width="3.1" height="3.1"/><path d="M662.15 249.15L665.25 252.25M662.15 252.25L665.25 249.15"/></g>
<path stroke="#46337E" stroke-width="0.7" fill="none" opacity="0.4" d="M485.45 25H487.95M486.7 23.75V26.25M485.8 24.1L487.6 25.9M485.8 25.9L487.6 24.1"/>
<path stroke="#46337E" stroke-width="0.7" fill="none" opacity="0.4" d="M520.85 52.5H523.35M522.1 51.25V53.75M521.2 51.6L523 53.4M521.2 53.4L523 51.6"/>
<path stroke="#46337E" stroke-width="0.7" fill="none" opacity="0.4" d="M556.25 91H558.75M557.5 89.75V92.25M556.6 90.1L558.4 91.9M556.6 91.9L558.4 90.1"/>
<path stroke="#46337E" stroke-width="0.7" fill="none" opacity="0.4" d="M591.65 134H594.15M592.9 132.75V135.25M592 133.1L593.8 134.9M592 134.9L593.8 133.1"/>
<path stroke="#46337E" stroke-width="0.7" fill="none" opacity="0.4" d="M627.05 191H629.55M628.3 189.75V192.25M627.4 190.1L629.2 191.9M627.4 191.9L629.2 190.1"/>
<path stroke="#46337E" stroke-width="0.7" fill="none" opacity="0.4" d="M662.45 235H664.95M663.7 233.75V236.25M662.8 234.1L664.6 235.9M662.8 235.9L664.6 234.1"/>
<path fill="#3F4889" opacity="0.9" d="M486.7 33.6L488.5 36.7L484.9 36.7Z"/>
<path fill="#3F4889" opacity="0.9" d="M522.1 76.6L523.9 79.7L520.3 79.7Z"/>
<path fill="#3F4889" opacity="0.9" d="M557.5 127.7L559.3 130.8L555.7 130.8Z"/>
<path fill="#3F4889" opacity="0.9" d="M592.9 174.7L594.7 177.8L591.1 177.8Z"/>
<path fill="#3F4889" opacity="0.9" d="M628.3 228.1L630.1 231.2L626.5 231.2Z"/>
<path fill="#3F4889" opacity="0.9" d="M663.7 262.3L665.5 265.4L661.9 265.4Z"/>
<path fill="#365C8D" opacity="0.8" d="M486.7 22.05L488.15 23.5L486.7 24.95L485.25 23.5Z"/>
<path fill="#365C8D" opacity="0.8" d="M522.1 41.85L523.55 43.3L522.1 44.75L520.65 43.3Z"/>
<path fill="#365C8D" opacity="0.8" d="M557.5 63.95L558.95 65.4L557.5 66.85L556.05 65.4Z"/>
<path fill="#365C8D" opacity="0.8" d="M592.9 100.35L594.35 101.8L592.9 103.25L591.45 101.8Z"/>
<path fill="#365C8D" opacity="0.8" d="M628.3 148.35L629.75 149.8L628.3 151.25L626.85 149.8Z"/>
<path fill="#365C8D" opacity="0.8" d="M663.7 192.25L665.15 193.7L663.7 195.15L662.25 193.7Z"/>
<rect x="485.35" y="23.15" width="2.7" height="2.7" fill="#2E6E8E" opacity="0.8"/>
<rect x="520.75" y="49.65" width="2.7" height="2.7" fill="#2E6E8E" opacity="0.8"/>
<rect x="556.15" y="86.25" width="2.7" height="2.7" fill="#2E6E8E" opacity="0.8"/>
<rect x="591.55" y="125.05" width="2.7" height="2.7" fill="#2E6E8E" opacity="0.8"/>
<rect x="626.95" y="173.95" width="2.7" height="2.7" fill="#2E6E8E" opacity="0.8"/>
<rect x="662.35" y="210.65" width="2.7" height="2.7" fill="#2E6E8E" opacity="0.8"/>
<path fill="#277F8E" opacity="0.8" d="M486.7 22.2L488.41 25.14L484.99 25.14Z"/>
<path fill="#277F8E" opacity="0.8" d="M522.1 47.7L523.81 50.64L520.39 50.64Z"/>
<path fill="#277F8E" opacity="0.8" d="M557.5 84.19L559.21 87.14L555.79 87.14Z"/>
<path fill="#277F8E" opacity="0.8" d="M592.9 123.19L594.61 126.14L591.19 126.14Z"/>
<path fill="#277F8E" opacity="0.8" d="M628.3 172.19L630.01 175.14L626.59 175.14Z"/>
<path fill="#277F8E" opacity="0.8" d="M663.7 204.09L665.41 207.04L661.99 207.04Z"/>
<g stroke="#21908C" stroke-width="0.6" fill="none" opacity="0.45"><circle cx="486.7" cy="34.5" r="1.6"/><path d="M485.1 34.5H488.3M486.7 32.9V36.1"/></g>
<g stroke="#21908C" stroke-width="0.6" fill="none" opacity="0.45"><circle cx="522.1" cy="56.9" r="1.6"/><path d="M520.5 56.9H523.7M522.1 55.3V58.5"/></g>
<g stroke="#21908C" stroke-width="0.6" fill="none" opacity="0.45"><circle cx="557.5" cy="93" r="1.6"/><path d="M555.9 93H559.1M557.5 91.4V94.6"/></g>
<g stroke="#21908C" stroke-width="0.6" fill="none" opacity="0.45"><circle cx="592.9" cy="139.2" r="1.6"/><path d="M591.3 139.2H594.5M592.9 137.6V140.8"/></g>
<g stroke="#21908C" stroke-width="0.6" fill="none" opacity="0.45"><circle cx="628.3" cy="180.1" r="1.6"/><path d="M626.7 180.1H629.9M628.3 178.5V181.7"/></g>
<g stroke="#21908C" stroke-width="0.6" fill="none" opacity="0.45"><circle cx="663.7" cy="226.8" r="1.6"/><path d="M662.1 226.8H665.3M663.7 225.2V228.4"/></g>
<rect x="485.15" y="26.65" width="3.1" height="3.1" fill="none" stroke="#1FA187" stroke-width="0.6" opacity="0.45"/>
<rect x="520.55" y="51.45" width="3.1" height="3.1" fill="none" stroke="#1FA187" stroke-width="0.6" opacity="0.45"/>
<rect x="555.95" y="90.45" width="3.1" height="3.1" fill="none" stroke="#1FA187" stroke-width="0.6" opacity="0.45"/>
<rect x="591.35" y="135.45" width="3.1" height="3.1" fill="none" stroke="#1FA187" stroke-width="0.6" opacity="0.45"/>
<rect x="626.75" y="195.45" width="3.1" height="3.1" fill="none" stroke="#1FA187" stroke-width="0.6" opacity="0.45"/>
<rect x="662.15" y="227.45" width="3.1" height="3.1" fill="none" stroke="#1FA187" stroke-width="0.6" opacity="0.45"/>
<path fill="none" stroke="#2DB27D" stroke-width="0.6" opacity="0.55" d="M486.7 19.7L488.7 21.7L486.7 23.7L484.7 21.7Z"/>
<path fill="none" stroke="#2DB27D" stroke-width="0.6" opacity="0.55" d="M522.1 45L524.1 47L522.1 49L520.1 47Z"/>
<path fill="none" stroke="#2DB27D" stroke-width="0.6" opacity="0.55" d="M557.5 93.6L559.5 95.6L557.5 97.6L555.5 95.6Z"/>
<path fill="none" stroke="#2DB27D" stroke-width="0.6" opacity="0.55" d="M592.9 137.5L594.9 139.5L592.9 141.5L590.9 139.5Z"/>
<path fill="none" stroke="#2DB27D" stroke-width="0.6" opacity="0.55" d="M628.3 192.9L630.3 194.9L628.3 196.9L626.3 194.9Z"/>
<path fill="none" stroke="#2DB27D" stroke-width="0.6" opacity="0.55" d="M663.7 239.8L665.7 241.8L663.7 243.8L661.7 241.8Z"/>
<circle cx="486.7" cy="24.2" r="1.05" fill="#4AC16D" opacity="0.9"/>
<circle cx="522.1" cy="48.6" r="1.05" fill="#4AC16D" opacity="0.9"/>
<circle cx="557.5" cy="85" r="1.05" fill="#4AC16D" opacity="0.9"/>
<circle cx="592.9" cy="124" r="1.05" fill="#4AC16D" opacity="0.9"/>
<circle cx="628.3" cy="172.5" r="1.05" fill="#4AC16D" opacity="0.9"/>
<circle cx="663.7" cy="204" r="1.05" fill="#4AC16D" opacity="0.9"/>
<g stroke="#71CF57" stroke-width="0.6" fill="#71CF57" fill-opacity="0.15" opacity="0.4"><rect x="485.15" y="22.45" width="3.1" height="3.1"/><path d="M485.15 22.45L488.25 25.55M485.15 25.55L488.25 22.45"/></g>
<g stroke="#71CF57" stroke-width="0.6" fill="#71CF57" fill-opacity="0.15" opacity="0.4"><rect x="520.55" y="44.45" width="3.1" height="3.1"/><path d="M520.55 44.45L523.65 47.55M520.55 47.55L523.65 44.45"/></g>
<g stroke="#71CF57" stroke-width="0.6" fill="#71CF57" fill-opacity="0.15" opacity="0.4"><rect x="555.95" y="81.95" width="3.1" height="3.1"/><path d="M555.95 81.95L559.05 85.05M555.95 85.05L559.05 81.95"/></g>
<g stroke="#71CF57" stroke-width="0.6" fill="#71CF57" fill-opacity="0.15" opacity="0.4"><rect x="591.35" y="121.15" width="3.1" height="3.1"/><path d="M591.35 121.15L594.45 124.25M591.35 124.25L594.45 121.15"/></g>
<g stroke="#71CF57" stroke-width="0.6" fill="#71CF57" fill-opacity="0.15" opacity="0.4"><rect x="626.75" y="169.45" width="3.1" height="3.1"/><path d="M626.75 169.45L629.85 172.55M626.75 172.55L629.85 169.45"/></g>
<g stroke="#71CF57" stroke-width="0.6" fill="#71CF57" fill-opacity="0.15" opacity="0.4"><rect x="662.15" y="199.05" width="3.1" height="3.1"/><path d="M662.15 199.05L665.25 202.15M662.15 202.15L665.25 199.05"/></g>
<circle cx="486.7" cy="24.5" r="1.05" fill="#9FDA3A" opacity="0.9"/>
<circle cx="522.1" cy="64.9" r="1.05" fill="#9FDA3A" opacity="0.9"/>
<circle cx="557.5" cy="116.5" r="1.05" fill="#9FDA3A" opacity="0.9"/>
<circle cx="592.9" cy="153" r="1.05" fill="#9FDA3A" opacity="0.9"/>
<circle cx="628.3" cy="200.6" r="1.05" fill="#9FDA3A" opacity="0.9"/>
<circle cx="663.7" cy="246.5" r="1.05" fill="#9FDA3A" opacity="0.9"/>
<circle cx="486.7" cy="23" r="1.6" fill="none" stroke="#CFE11C" stroke-width="0.6" opacity="0.4"/>
<circle cx="522.1" cy="45" r="1.6" fill="none" stroke="#CFE11C" stroke-width="0.6" opacity="0.4"/>
<circle cx="557.5" cy="81.7" r="1.6" fill="none" stroke="#CFE11C" stroke-width="0.6" opacity="0.4"/>
<circle cx="592.9" cy="119.2" r="1.6" fill="none" stroke="#CFE11C" stroke-width="0.6" opacity="0.4"/>
<circle cx="628.3" cy="168.8" r="1.6" fill="none" stroke="#CFE11C" stroke-width="0.6" opacity="0.4"/>
<circle cx="663.7" cy="199.5" r="1.6" fill="none" stroke="#CFE11C" stroke-width="0.6" opacity="0.4"/>
<circle cx="486.7" cy="25.8" r="1.05" fill="#FDE725" opacity="0.9"/>
<circle cx="522.1" cy="66.3" r="1.05" fill="#FDE725" opacity="0.9"/>
<circle cx="557.5" cy="119.8" r="1.05" fill="#FDE725" opacity="0.9"/>
<circle cx="592.9" cy="155.4" r="1.05" fill="#FDE725" opacity="0.9"/>
<circle cx="628.3" cy="205" r="1.05" fill="#FDE725" opacity="0.9"/>
<circle cx="663.7" cy="248.9" r="1.05" fill="#FDE725" opacity="0.9"/>
<rect x="465.7" y="8.5" width="218.85" height="269.4" fill="none" stroke="#bbbbbb" stroke-width="0.85"/>
<text x="486.7" y="284.55" font-size="7.04" fill="#4d4d4d" stroke="#4d4d4d" stroke-width="0.16" text-anchor="middle">1.0</text>
<text x="522.1" y="284.55" font-size="7.04" fill="#4d4d4d" stroke="#4d4d4d" stroke-width="0.16" text-anchor="middle">1.1</text>
<text x="557.5" y="284.55" font-size="7.04" fill="#4d4d4d" stroke="#4d4d4d" stroke-width="0.16" text-anchor="middle">1.2</text>
<text x="592.9" y="284.55" font-size="7.04" fill="#4d4d4d" stroke="#4d4d4d" stroke-width="0.16" text-anchor="middle">1.3</text>
<text x="628.3" y="284.55" font-size="7.04" fill="#4d4d4d" stroke="#4d4d4d" stroke-width="0.16" text-anchor="middle">1.4</text>
<text x="663.7" y="284.55" font-size="7.04" fill="#4d4d4d" stroke="#4d4d4d" stroke-width="0.16" text-anchor="middle">1.5</text>
</g>
<text x="22.6" y="25.15" font-size="7.04" fill="#4d4d4d" stroke="#4d4d4d" stroke-width="0.16" text-anchor="end">0</text>
<text x="22.6" y="71.95" font-size="7.04" fill="#4d4d4d" stroke="#4d4d4d" stroke-width="0.16" text-anchor="end">-100</text>
<text x="22.6" y="118.75" font-size="7.04" fill="#4d4d4d" stroke="#4d4d4d" stroke-width="0.16" text-anchor="end">-200</text>
<text x="22.6" y="165.55" font-size="7.04" fill="#4d4d4d" stroke="#4d4d4d" stroke-width="0.16" text-anchor="end">-300</text>
<text x="22.6" y="212.35" font-size="7.04" fill="#4d4d4d" stroke="#4d4d4d" stroke-width="0.16" text-anchor="end">-400</text>
<text x="22.6" y="259.15" font-size="7.04" fill="#4d4d4d" stroke="#4d4d4d" stroke-width="0.16" text-anchor="end">-500</text>
<text x="353.4" y="293.1" font-size="8.8" fill="#000" stroke="#000" stroke-width="0.16" text-anchor="middle">SAF Price ($/Liter)</text>
<text transform="translate(7.3 143.5) rotate(-90)" font-size="8.8" fill="#000" stroke="#000" stroke-width="0.16" text-anchor="middle">GHG Savings (M Mg CO2e)</text>
<text x="44.4" y="313" font-size="8.8" fill="#000" stroke="#000" stroke-width="0.16">Scenarios</text>
<circle cx="86.7" cy="302" r="0.95" fill="#440154" opacity="1"/>
<text x="90.9" y="304.25" font-size="7.04" fill="#000" stroke="#000" stroke-width="0.16">Benchmark scenario</text>
<g stroke="#481B6D" stroke-width="0.6" fill="#481B6D" fill-opacity="0.3" opacity="0.35"><rect x="85.15" y="308.2" width="3.1" height="3.1"/><path d="M85.15 308.2L88.25 311.3M85.15 311.3L88.25 308.2"/></g>
<text x="90.9" y="312" font-size="7.04" fill="#000" stroke="#000" stroke-width="0.16">2% crop yield growth rate</text>
<path stroke="#46337E" stroke-width="0.7" fill="none" opacity="0.4" d="M85.45 317.5H87.95M86.7 316.25V318.75M85.8 316.6L87.6 318.4M85.8 318.4L87.6 316.6"/>
<text x="90.9" y="319.75" font-size="7.04" fill="#000" stroke="#000" stroke-width="0.16">4% export demand growth rate</text>
<path fill="#3F4889" opacity="0.9" d="M190.1 300.1L191.9 303.2L188.3 303.2Z"/>
<text x="194.3" y="304.25" font-size="7.04" fill="#000" stroke="#000" stroke-width="0.16">10% more of energy crops yields</text>
<path fill="#365C8D" opacity="0.8" d="M190.1 308.3L191.55 309.75L190.1 311.2L188.65 309.75Z"/>
<text x="194.3" y="312" font-size="7.04" fill="#000" stroke="#000" stroke-width="0.16">10% less of energy crops yields</text>
<rect x="188.75" y="316.15" width="2.7" height="2.7" fill="#2E6E8E" opacity="0.8"/>
<text x="194.3" y="319.75" font-size="7.04" fill="#000" stroke="#000" stroke-width="0.16">ILUC factor_AEZ-EF</text>
<path fill="#277F8E" opacity="0.8" d="M299.8 300.19L301.51 303.14L298.09 303.14Z"/>
<text x="303.8" y="304.25" font-size="7.04" fill="#000" stroke="#000" stroke-width="0.16">ILUC factor_CCLUB</text>
<g stroke="#21908C" stroke-width="0.6" fill="none" opacity="0.45"><circle cx="299.8" cy="309.75" r="1.6"/><path d="M298.2 309.75H301.4M299.8 308.15V311.35"/></g>
<text x="303.8" y="312" font-size="7.04" fill="#000" stroke="#000" stroke-width="0.16">10% more marginal land conversion cost</text>
<rect x="298.25" y="315.95" width="3.1" height="3.1" fill="none" stroke="#1FA187" stroke-width="0.6" opacity="0.45"/>
<text x="303.8" y="319.75" font-size="7.04" fill="#000" stroke="#000" stroke-width="0.16">10% less marginal land conversion cost</text>
<path fill="none" stroke="#2DB27D" stroke-width="0.6" opacity="0.55" d="M433.7 300L435.7 302L433.7 304L431.7 302Z"/>
<text x="438" y="304.25" font-size="7.04" fill="#000" stroke="#000" stroke-width="0.16">1% crop yield decline rate</text>
<circle cx="433.7" cy="309.75" r="1.05" fill="#4AC16D" opacity="0.9"/>
<text x="438" y="312" font-size="7.04" fill="#000" stroke="#000" stroke-width="0.16">10% land conversion limit</text>
<g stroke="#71CF57" stroke-width="0.6" fill="#71CF57" fill-opacity="0.15" opacity="0.4"><rect x="432.15" y="315.95" width="3.1" height="3.1"/><path d="M432.15 315.95L435.25 319.05M432.15 319.05L435.25 315.95"/></g>
<text x="438" y="319.75" font-size="7.04" fill="#000" stroke="#000" stroke-width="0.16">40% more LUC emission</text>
<circle cx="521.3" cy="302" r="1.05" fill="#9FDA3A" opacity="0.9"/>
<text x="525" y="304.25" font-size="7.04" fill="#000" stroke="#000" stroke-width="0.16">40% less LUC emission</text>
<circle cx="521.3" cy="309.75" r="1.6" fill="none" stroke="#CFE11C" stroke-width="0.6" opacity="0.4"/>
<text x="525" y="312" font-size="7.04" fill="#000" stroke="#000" stroke-width="0.16">50% more biorefinery and 50% less co-credit</text>
<circle cx="521.3" cy="317.5" r="1.05" fill="#FDE725" opacity="0.9"/>
<text x="525" y="319.75" font-size="7.04" fill="#000" stroke="#000" stroke-width="0.16">50% less biorefinery and 50% more co-credit</text>
</svg>
</body></html>
